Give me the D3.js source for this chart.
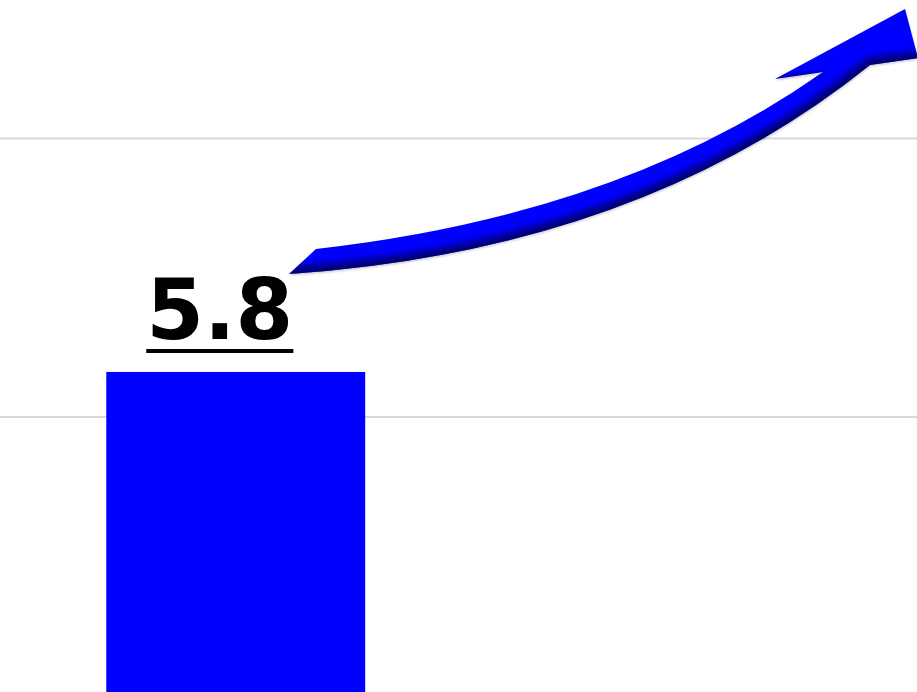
<!DOCTYPE html>
<html>
<head>
<meta charset="utf-8">
<script src="https://cdn.jsdelivr.net/npm/d3@7"></script>
<style>
  html, body { margin: 0; padding: 0; background: #fff; overflow: hidden; }
  svg { display: block; }
</style>
</head>
<body>
<svg id="chart" width="917" height="692"></svg>
<script>
// ---- data ----
const categories = ["A"];
const values = [5.8];
const labels = ["5.8"];
const gridTicks = [0, 5, 10, 15];

// ---- layout ----
const W = 917, H = 692;
const svg = d3.select("#chart");

const y = d3.scaleLinear().domain([0, 10]).range([695, 138]);
const x = d3.scaleBand().domain(categories).range([20, 451.5]).padding(0.25);

// gridlines
const grid = svg.append("g").attr("transform", "translate(0,0)")
  .call(d3.axisLeft(y).tickValues(gridTicks).tickSize(-W).tickFormat(""));
grid.select(".domain").remove();
grid.selectAll(".tick line").attr("stroke", "#d9d9d9").attr("stroke-width", 2);

// bars
svg.selectAll("rect.bar").data(values).join("rect")
  .attr("class", "bar")
  .attr("x", (d, i) => x(categories[i]))
  .attr("width", x.bandwidth())
  .attr("y", d => y(d))
  .attr("height", d => y(0) - y(d))
  .attr("fill", "#0000ff");

// value label (bold, underlined)
const fontSize = 83;
const lbl = svg.selectAll("g.lbl").data(values).join("g").attr("class", "lbl");
lbl.append("text")
  .attr("x", (d, i) => x(categories[i]) + 40)
  .attr("y", d => y(d) - 33)
  .attr("font-family", "DejaVu Sans")
  .attr("font-weight", "bold")
  .attr("font-size", fontSize)
  .attr("fill", "#000")
  .text((d, i) => labels[i]);
lbl.each(function(d, i) {
  const t = d3.select(this).select("text").node();
  const w = t.getComputedTextLength();
  const x0 = x(categories[i]) + 40;
  d3.select(this).append("line")
    .attr("x1", x0).attr("x2", x0 + w)
    .attr("y1", y(d) - 21).attr("y2", y(d) - 21)
    .attr("stroke", "#000").attr("stroke-width", 4);
});

// ---- decorative growth arrow (annotation, pixel space) ----
const arrowShape = "M316,249 Q620,215 823,72 L775,79 L905,9 L918,58 L870,65 Q640,250 289,274 Z";
const arrowShadeEdge = "M289,274 Q640,250 870,65 L920,58";

const defs = svg.append("defs");
defs.append("clipPath").attr("id", "arrowClip").append("path").attr("d", arrowShape);
const blur = defs.append("filter").attr("id", "blur3").attr("x", "-10%").attr("y", "-10%").attr("width", "120%").attr("height", "120%");
blur.append("feGaussianBlur").attr("stdDeviation", 3.5);
const blurS = defs.append("filter").attr("id", "blur1").attr("x", "-10%").attr("y", "-10%").attr("width", "120%").attr("height", "120%");
blurS.append("feGaussianBlur").attr("stdDeviation", 1);

// soft grey shadow under the arrow
svg.append("path").attr("d", arrowShape)
  .attr("transform", "translate(0.5,1.5)")
  .attr("fill", "#9a9a9a").attr("opacity", 0.5)
  .attr("filter", "url(#blur1)");

svg.append("path").attr("d", arrowShape).attr("fill", "#0000ff");

const shade = svg.append("g").attr("clip-path", "url(#arrowClip)");
shade.append("path").attr("d", arrowShadeEdge)
  .attr("fill", "none").attr("stroke", "#000040").attr("stroke-width", 14)
  .attr("opacity", 0.75).attr("filter", "url(#blur3)");
shade.append("path").attr("d", "M775,79 L823,72")
  .attr("fill", "none").attr("stroke", "#000060").attr("stroke-width", 8)
  .attr("opacity", 0.5).attr("filter", "url(#blur3)");
</script>
</body>
</html>
